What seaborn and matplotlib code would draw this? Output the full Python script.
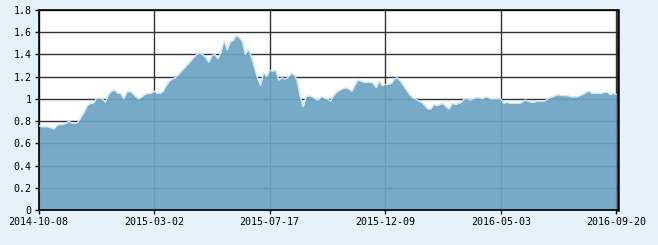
import matplotlib
matplotlib.use("Agg")
import matplotlib.pyplot as plt
import seaborn as sns
import numpy as np
import pandas as pd

# ---- data ----
values = [
    0.76, 0.75, 0.75, 0.75, 0.74, 0.73, 0.76, 0.77, 0.77, 0.78,
    0.80, 0.78, 0.78, 0.79, 0.84, 0.88, 0.94, 0.96, 0.96, 1.00,
    1.01, 1.00, 0.97, 1.04, 1.07, 1.08, 1.05, 1.05, 1.00, 1.06,
    1.07, 1.05, 1.02, 1.00, 1.02, 1.04, 1.05, 1.05, 1.07, 1.05,
    1.05, 1.07, 1.12, 1.16, 1.18, 1.19, 1.22, 1.25, 1.28, 1.31,
    1.34, 1.37, 1.40, 1.41, 1.40, 1.37, 1.33, 1.39, 1.40, 1.36,
    1.42, 1.53, 1.44, 1.51, 1.53, 1.57, 1.55, 1.52, 1.40, 1.45,
    1.38, 1.28, 1.19, 1.12, 1.24, 1.20, 1.26, 1.25, 1.26, 1.17,
    1.19, 1.18, 1.19, 1.23, 1.22, 1.17, 1.03, 0.93, 1.02, 1.03,
    1.02, 1.00, 0.99, 1.02, 1.01, 1.00, 0.98, 1.03, 1.06, 1.08,
    1.09, 1.10, 1.09, 1.07, 1.12, 1.17, 1.16, 1.15, 1.15, 1.15,
    1.14, 1.10, 1.16, 1.12, 1.13, 1.13, 1.14, 1.18, 1.19, 1.16,
    1.12, 1.08, 1.04, 1.01, 1.00, 0.98, 0.97, 0.94, 0.91, 0.91,
    0.95, 0.94, 0.95, 0.96, 0.93, 0.91, 0.96, 0.95, 0.96, 0.97,
    1.00, 1.00, 0.99, 1.00, 1.01, 1.01, 1.00, 1.02, 1.01, 1.00,
    1.00, 1.00, 1.00, 0.96, 0.97, 0.96, 0.96, 0.96, 0.96, 0.97,
    0.99, 0.98, 0.97, 0.97, 0.98, 0.98, 0.98, 0.99, 1.01, 1.02,
    1.03, 1.04, 1.03, 1.03, 1.03, 1.02, 1.02, 1.02, 1.03, 1.04,
    1.06, 1.07, 1.05, 1.05, 1.05, 1.05, 1.06, 1.06, 1.04, 1.05,
    1.04,
]
tick_labels = ["2014-10-08", "2015-03-02", "2015-07-17",
               "2015-12-09", "2016-05-03", "2016-09-20"]
tick_index = [0, 38, 76, 114, 152, 190]
y_ticks = [0, 0.2, 0.4, 0.6, 0.8, 1, 1.2, 1.4, 1.6, 1.8]
y_tick_labels = ["0", "0.2", "0.4", "0.6", "0.8", "1", "1.2", "1.4", "1.6", "1.8"]

df = pd.DataFrame({"idx": np.arange(len(values)), "value": values})

# ---- style ----
sns.set_theme(style="white")
plt.rcParams["font.family"] = ["DejaVu Sans Mono", "DejaVu Sans"]

bg = "#E6F2FA"
fig = plt.figure(figsize=(6.58, 2.45), dpi=100, facecolor=bg)
ax = fig.add_axes([38.5 / 658, 1 - 210 / 245, (617.7 - 38.5) / 658, 200 / 245])
ax.set_facecolor("white")

# grid (below the fill)
ax.set_axisbelow(True)
ax.grid(True, color="#333333", linewidth=1.0)

ax.fill_between(df["idx"], 0, df["value"], color="#6CA4C3", alpha=0.93,
                linewidth=0, zorder=2)
sns.lineplot(data=df, x="idx", y="value", ax=ax, color="#D2E8F6",
             linewidth=1.0, zorder=3)

ax.set_xlim(0, 190.45)
ax.set_ylim(0, 1.8)
ax.set_xticks(tick_index)
ax.set_xticklabels(tick_labels)
ax.set_yticks(y_ticks)
ax.set_yticklabels(y_tick_labels)
ax.set_xlabel("")
ax.set_ylabel("")

for s in ax.spines.values():
    s.set_visible(True)
    s.set_color("black")
    s.set_linewidth(1.2)
ax.spines["right"].set_linewidth(1.8)

ax.tick_params(axis="both", which="major", direction="out", length=3,
               width=1, color="black", labelsize=7.2, labelcolor="black",
               pad=2, bottom=True, left=True)

fig.savefig("out.png", dpi=100, facecolor=bg)
